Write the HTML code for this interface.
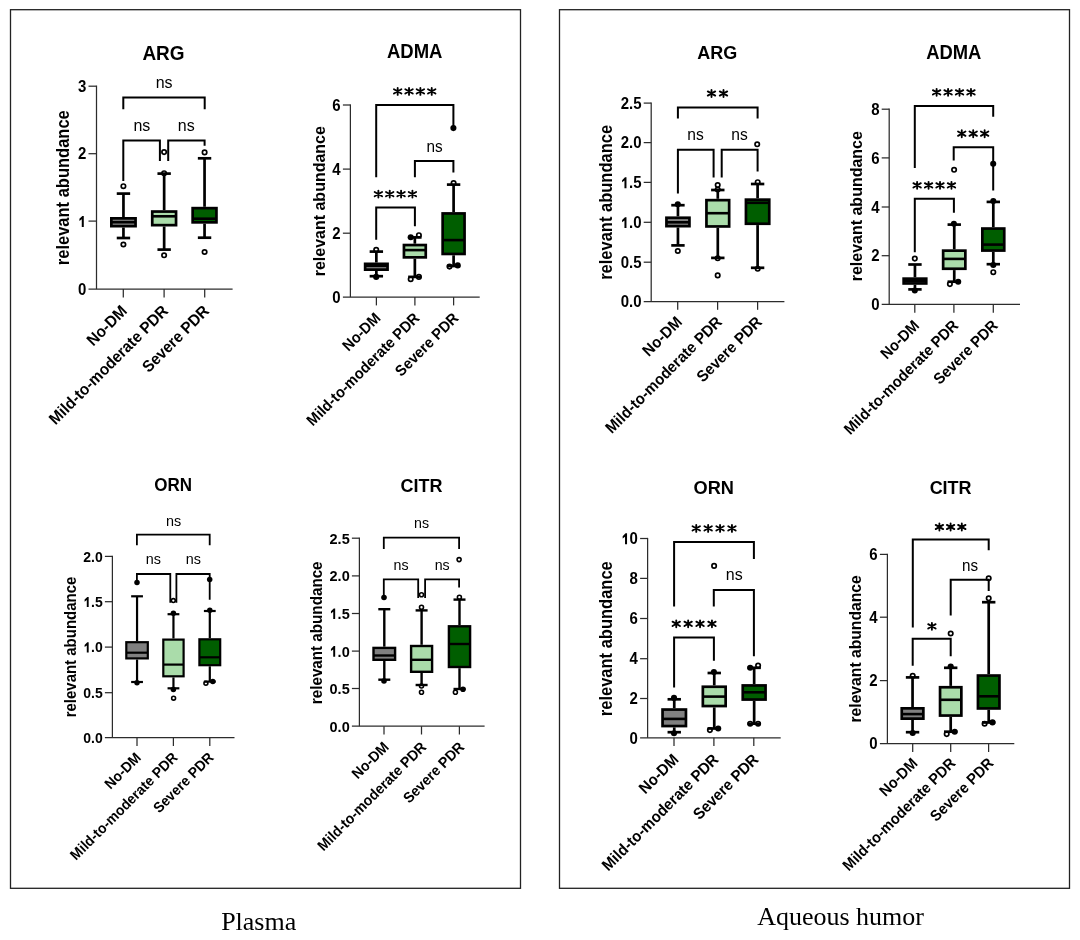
<!DOCTYPE html><html><head><meta charset="utf-8"><style>html,body{margin:0;padding:0;background:#fff;}svg{display:block;filter:blur(0.35px);}</style></head><body>
<svg width="1080" height="940" viewBox="0 0 1080 940" font-family='"Liberation Sans", sans-serif'>
<rect width="1080" height="940" fill="#fff"/>
<rect x="10.5" y="9.7" width="510" height="878.6" fill="none" stroke="#222" stroke-width="1.3"/>
<rect x="559.5" y="9.7" width="510" height="878.6" fill="none" stroke="#222" stroke-width="1.3"/>
<line x1="96.5" y1="85.58" x2="96.5" y2="289.1" stroke="#2c2c2c" stroke-width="1.25" stroke-linecap="butt"/>
<line x1="88.5" y1="221.1" x2="96.5" y2="221.1" stroke="#2c2c2c" stroke-width="1.25" stroke-linecap="butt"/>
<line x1="88.5" y1="153.7" x2="96.5" y2="153.7" stroke="#2c2c2c" stroke-width="1.25" stroke-linecap="butt"/>
<line x1="88.5" y1="86.2" x2="96.5" y2="86.2" stroke="#2c2c2c" stroke-width="1.25" stroke-linecap="butt"/>
<line x1="88.5" y1="289.1" x2="232.6" y2="289.1" stroke="#2c2c2c" stroke-width="1.25" stroke-linecap="butt"/>
<line x1="123.3" y1="289.1" x2="123.3" y2="297.4" stroke="#2c2c2c" stroke-width="1.25" stroke-linecap="butt"/>
<line x1="164.1" y1="289.1" x2="164.1" y2="297.4" stroke="#2c2c2c" stroke-width="1.25" stroke-linecap="butt"/>
<line x1="204.7" y1="289.1" x2="204.7" y2="297.4" stroke="#2c2c2c" stroke-width="1.25" stroke-linecap="butt"/>
<text transform="translate(86.3,294.88) scale(0.9434,1)" font-size="15.9" font-weight="bold" text-anchor="end">0</text>
<text transform="translate(86.3,226.88) scale(0.9434,1)" font-size="15.9" font-weight="bold" text-anchor="end"> </text>
<polygon points="83.78,226.88 83.78,215.94 82.31,215.94 79.41,218.85 79.41,221.07 81.77,219.32 81.77,226.88" fill="#000"/>
<text transform="translate(86.3,159.47) scale(0.9434,1)" font-size="15.9" font-weight="bold" text-anchor="end">2</text>
<text transform="translate(86.3,91.98) scale(0.9434,1)" font-size="15.9" font-weight="bold" text-anchor="end">3</text>
<text transform="translate(163.5,59.6) scale(0.9434,1)" font-size="20.14" font-weight="bold" text-anchor="middle">ARG</text>
<text transform="translate(68.8,187.7) rotate(-90) scale(0.9434,1)" font-size="17.49" font-weight="bold" text-anchor="middle">relevant abundance</text>
<text transform="translate(128,312) rotate(-45) scale(0.9434,1)" font-size="16.22" font-weight="bold" text-anchor="end">No-DM</text>
<text transform="translate(169,312) rotate(-45) scale(0.9434,1)" font-size="16.22" font-weight="bold" text-anchor="end">Mild-to-moderate PDR</text>
<text transform="translate(210,312) rotate(-45) scale(0.9434,1)" font-size="16.22" font-weight="bold" text-anchor="end">Severe PDR</text>
<path d="M123.3 109.3V97.5H204.7V109.3" stroke="#000" stroke-width="2" fill="none" stroke-linejoin="miter" stroke-linecap="butt"/>
<path d="M123.3 180.9V140.6H159.9V161" stroke="#000" stroke-width="2" fill="none" stroke-linejoin="miter" stroke-linecap="butt"/>
<path d="M168.2 161V140.6H204.6V145.7" stroke="#000" stroke-width="2" fill="none" stroke-linejoin="miter" stroke-linecap="butt"/>
<line x1="123.45" y1="193.6" x2="123.45" y2="217" stroke="#000" stroke-width="2.7" stroke-linecap="butt"/>
<line x1="123.45" y1="227.5" x2="123.45" y2="238" stroke="#000" stroke-width="2.7" stroke-linecap="butt"/>
<line x1="116.75" y1="193.6" x2="130.15" y2="193.6" stroke="#000" stroke-width="2.7" stroke-linecap="butt"/>
<line x1="116.75" y1="238" x2="130.15" y2="238" stroke="#000" stroke-width="2.7" stroke-linecap="butt"/>
<rect x="111.35" y="218.35" width="24.2" height="7.8" fill="#808080" stroke="#000" stroke-width="2.7"/>
<line x1="111.35" y1="222.2" x2="135.55" y2="222.2" stroke="#000" stroke-width="2.6" stroke-linecap="butt"/>
<line x1="164.15" y1="173.6" x2="164.15" y2="210.2" stroke="#000" stroke-width="2.7" stroke-linecap="butt"/>
<line x1="164.15" y1="226.5" x2="164.15" y2="249.6" stroke="#000" stroke-width="2.7" stroke-linecap="butt"/>
<line x1="157.45" y1="173.6" x2="170.85" y2="173.6" stroke="#000" stroke-width="2.7" stroke-linecap="butt"/>
<line x1="157.45" y1="249.6" x2="170.85" y2="249.6" stroke="#000" stroke-width="2.7" stroke-linecap="butt"/>
<rect x="152.25" y="211.55" width="23.8" height="13.6" fill="#aadcaa" stroke="#000" stroke-width="2.7"/>
<line x1="152.25" y1="216.3" x2="176.05" y2="216.3" stroke="#000" stroke-width="2.6" stroke-linecap="butt"/>
<line x1="204.55" y1="158.3" x2="204.55" y2="206.8" stroke="#000" stroke-width="2.7" stroke-linecap="butt"/>
<line x1="204.55" y1="223.7" x2="204.55" y2="237.7" stroke="#000" stroke-width="2.7" stroke-linecap="butt"/>
<line x1="197.85" y1="158.3" x2="211.25" y2="158.3" stroke="#000" stroke-width="2.7" stroke-linecap="butt"/>
<line x1="197.85" y1="237.7" x2="211.25" y2="237.7" stroke="#000" stroke-width="2.7" stroke-linecap="butt"/>
<rect x="192.65" y="208.15" width="23.8" height="14.2" fill="#005e00" stroke="#000" stroke-width="2.7"/>
<line x1="192.65" y1="218.7" x2="216.45" y2="218.7" stroke="#000" stroke-width="2.6" stroke-linecap="butt"/>
<circle cx="123.4" cy="186.2" r="2.2" fill="none" stroke="#000" stroke-width="1.7"/>
<circle cx="123.4" cy="244.5" r="2.2" fill="none" stroke="#000" stroke-width="1.7"/>
<circle cx="164.1" cy="152.1" r="2.2" fill="none" stroke="#000" stroke-width="1.7"/>
<circle cx="164.1" cy="255.3" r="2.2" fill="none" stroke="#000" stroke-width="1.7"/>
<circle cx="164.1" cy="173.2" r="2.2" fill="none" stroke="#000" stroke-width="1.7"/>
<circle cx="204.6" cy="152.4" r="2.2" fill="none" stroke="#000" stroke-width="1.7"/>
<circle cx="204.6" cy="252" r="2.2" fill="none" stroke="#000" stroke-width="1.7"/>
<text transform="translate(164.1,87.8) scale(0.9434,1)" font-size="16.96" font-weight="normal" text-anchor="middle">ns</text>
<text transform="translate(141.9,130.8) scale(0.9434,1)" font-size="16.96" font-weight="normal" text-anchor="middle">ns</text>
<text transform="translate(186.2,130.8) scale(0.9434,1)" font-size="16.96" font-weight="normal" text-anchor="middle">ns</text>
<line x1="350.4" y1="104.38" x2="350.4" y2="297.1" stroke="#2c2c2c" stroke-width="1.25" stroke-linecap="butt"/>
<line x1="342.9" y1="233.2" x2="350.4" y2="233.2" stroke="#2c2c2c" stroke-width="1.25" stroke-linecap="butt"/>
<line x1="342.9" y1="169.1" x2="350.4" y2="169.1" stroke="#2c2c2c" stroke-width="1.25" stroke-linecap="butt"/>
<line x1="342.9" y1="105" x2="350.4" y2="105" stroke="#2c2c2c" stroke-width="1.25" stroke-linecap="butt"/>
<line x1="342.9" y1="297.1" x2="479.7" y2="297.1" stroke="#2c2c2c" stroke-width="1.25" stroke-linecap="butt"/>
<line x1="376.4" y1="297.1" x2="376.4" y2="305.4" stroke="#2c2c2c" stroke-width="1.25" stroke-linecap="butt"/>
<line x1="414.9" y1="297.1" x2="414.9" y2="305.4" stroke="#2c2c2c" stroke-width="1.25" stroke-linecap="butt"/>
<line x1="453.6" y1="297.1" x2="453.6" y2="305.4" stroke="#2c2c2c" stroke-width="1.25" stroke-linecap="butt"/>
<text transform="translate(340.7,302.88) scale(0.9434,1)" font-size="15.9" font-weight="bold" text-anchor="end">0</text>
<text transform="translate(340.7,238.97) scale(0.9434,1)" font-size="15.9" font-weight="bold" text-anchor="end">2</text>
<text transform="translate(340.7,174.88) scale(0.9434,1)" font-size="15.9" font-weight="bold" text-anchor="end">4</text>
<text transform="translate(340.7,110.78) scale(0.9434,1)" font-size="15.9" font-weight="bold" text-anchor="end">6</text>
<text transform="translate(414.7,58) scale(0.9434,1)" font-size="19.61" font-weight="bold" text-anchor="middle">ADMA</text>
<text transform="translate(324.7,201.2) rotate(-90) scale(0.9434,1)" font-size="16.96" font-weight="bold" text-anchor="middle">relevant abundance</text>
<text transform="translate(381.5,319) rotate(-45) scale(0.9434,1)" font-size="15.37" font-weight="bold" text-anchor="end">No-DM</text>
<text transform="translate(420.5,319) rotate(-45) scale(0.9434,1)" font-size="15.37" font-weight="bold" text-anchor="end">Mild-to-moderate PDR</text>
<text transform="translate(459.5,319) rotate(-45) scale(0.9434,1)" font-size="15.37" font-weight="bold" text-anchor="end">Severe PDR</text>
<path d="M376.2 177.2V105H453.4V126.3" stroke="#000" stroke-width="2" fill="none" stroke-linejoin="miter" stroke-linecap="butt"/>
<path d="M414.9 177.2V161.1H453.4V172.6" stroke="#000" stroke-width="2" fill="none" stroke-linejoin="miter" stroke-linecap="butt"/>
<path d="M376.2 239.7V207.4H414.9V226.3" stroke="#000" stroke-width="2" fill="none" stroke-linejoin="miter" stroke-linecap="butt"/>
<line x1="376.35" y1="251.6" x2="376.35" y2="262.5" stroke="#000" stroke-width="2.7" stroke-linecap="butt"/>
<line x1="376.35" y1="271" x2="376.35" y2="276.2" stroke="#000" stroke-width="2.7" stroke-linecap="butt"/>
<line x1="369.65" y1="251.6" x2="383.05" y2="251.6" stroke="#000" stroke-width="2.7" stroke-linecap="butt"/>
<line x1="369.65" y1="276.2" x2="383.05" y2="276.2" stroke="#000" stroke-width="2.7" stroke-linecap="butt"/>
<rect x="365.15" y="263.85" width="22.4" height="5.8" fill="#808080" stroke="#000" stroke-width="2.7"/>
<line x1="365.15" y1="265.8" x2="387.55" y2="265.8" stroke="#000" stroke-width="2.6" stroke-linecap="butt"/>
<line x1="414.85" y1="237.4" x2="414.85" y2="243.7" stroke="#000" stroke-width="2.7" stroke-linecap="butt"/>
<line x1="414.85" y1="258.7" x2="414.85" y2="276.9" stroke="#000" stroke-width="2.7" stroke-linecap="butt"/>
<line x1="408.15" y1="237.4" x2="421.55" y2="237.4" stroke="#000" stroke-width="2.7" stroke-linecap="butt"/>
<line x1="408.15" y1="276.9" x2="421.55" y2="276.9" stroke="#000" stroke-width="2.7" stroke-linecap="butt"/>
<rect x="403.95" y="245.05" width="21.8" height="12.3" fill="#aadcaa" stroke="#000" stroke-width="2.7"/>
<line x1="403.95" y1="250.1" x2="425.75" y2="250.1" stroke="#000" stroke-width="2.6" stroke-linecap="butt"/>
<line x1="453.6" y1="184.6" x2="453.6" y2="212.1" stroke="#000" stroke-width="2.7" stroke-linecap="butt"/>
<line x1="453.6" y1="255.3" x2="453.6" y2="266" stroke="#000" stroke-width="2.7" stroke-linecap="butt"/>
<line x1="446.9" y1="184.6" x2="460.3" y2="184.6" stroke="#000" stroke-width="2.7" stroke-linecap="butt"/>
<line x1="446.9" y1="266" x2="460.3" y2="266" stroke="#000" stroke-width="2.7" stroke-linecap="butt"/>
<rect x="442.65" y="213.45" width="21.9" height="40.5" fill="#005e00" stroke="#000" stroke-width="2.7"/>
<line x1="442.65" y1="240.1" x2="464.55" y2="240.1" stroke="#000" stroke-width="2.6" stroke-linecap="butt"/>
<circle cx="376.2" cy="249.8" r="2.2" fill="none" stroke="#000" stroke-width="1.7"/>
<circle cx="376.2" cy="276.9" r="3.05" fill="#000"/>
<circle cx="410.7" cy="237.2" r="3.05" fill="#000"/>
<circle cx="418.9" cy="235.2" r="2.2" fill="none" stroke="#000" stroke-width="1.7"/>
<circle cx="410.7" cy="279.2" r="2.2" fill="none" stroke="#000" stroke-width="1.7"/>
<circle cx="418.9" cy="276.9" r="2.2" fill="none" stroke="#000" stroke-width="1.7"/>
<circle cx="453.6" cy="183.1" r="2.2" fill="none" stroke="#000" stroke-width="1.7"/>
<circle cx="449.5" cy="266.6" r="2.2" fill="none" stroke="#000" stroke-width="1.7"/>
<circle cx="457.7" cy="265.4" r="3.05" fill="#000"/>
<circle cx="453.4" cy="128.1" r="3.05" fill="#000"/>
<path d="M397.68 87.9V94.9M393.95 89.25L401.4 93.55M393.95 93.55L401.4 89.25M409.03 87.9V94.9M405.3 89.25L412.75 93.55M405.3 93.55L412.75 89.25M420.38 87.9V94.9M416.65 89.25L424.1 93.55M416.65 93.55L424.1 89.25M431.73 87.9V94.9M428 89.25L435.45 93.55M428 93.55L435.45 89.25" stroke="#000" stroke-width="1.85" fill="none" stroke-linejoin="miter" stroke-linecap="round"/>
<text transform="translate(434.5,151.9) scale(0.9434,1)" font-size="16.22" font-weight="normal" text-anchor="middle">ns</text>
<path d="M378.38 190.6V197.6M374.65 191.95L382.1 196.25M374.65 196.25L382.1 191.95M389.73 190.6V197.6M386 191.95L393.45 196.25M386 196.25L393.45 191.95M401.07 190.6V197.6M397.35 191.95L404.8 196.25M397.35 196.25L404.8 191.95M412.43 190.6V197.6M408.7 191.95L416.15 196.25M408.7 196.25L416.15 191.95" stroke="#000" stroke-width="1.85" fill="none" stroke-linejoin="miter" stroke-linecap="round"/>
<line x1="112.4" y1="555.77" x2="112.4" y2="737.7" stroke="#2c2c2c" stroke-width="1.25" stroke-linecap="butt"/>
<line x1="104.9" y1="692.7" x2="112.4" y2="692.7" stroke="#2c2c2c" stroke-width="1.25" stroke-linecap="butt"/>
<line x1="104.9" y1="647.1" x2="112.4" y2="647.1" stroke="#2c2c2c" stroke-width="1.25" stroke-linecap="butt"/>
<line x1="104.9" y1="601.7" x2="112.4" y2="601.7" stroke="#2c2c2c" stroke-width="1.25" stroke-linecap="butt"/>
<line x1="104.9" y1="556.4" x2="112.4" y2="556.4" stroke="#2c2c2c" stroke-width="1.25" stroke-linecap="butt"/>
<line x1="104.9" y1="737.7" x2="234.5" y2="737.7" stroke="#2c2c2c" stroke-width="1.25" stroke-linecap="butt"/>
<line x1="137" y1="737.7" x2="137" y2="746" stroke="#2c2c2c" stroke-width="1.25" stroke-linecap="butt"/>
<line x1="173.4" y1="737.7" x2="173.4" y2="746" stroke="#2c2c2c" stroke-width="1.25" stroke-linecap="butt"/>
<line x1="209.8" y1="737.7" x2="209.8" y2="746" stroke="#2c2c2c" stroke-width="1.25" stroke-linecap="butt"/>
<text transform="translate(102.7,743.09) scale(0.9434,1)" font-size="14.84" font-weight="bold" text-anchor="end">0.0</text>
<text transform="translate(102.7,698.09) scale(0.9434,1)" font-size="14.84" font-weight="bold" text-anchor="end">0.5</text>
<text transform="translate(102.7,652.49) scale(0.9434,1)" font-size="14.84" font-weight="bold" text-anchor="end"> .0</text>
<polygon points="88.67,652.49 88.67,642.28 87.30,642.28 84.60,645.00 84.60,647.07 86.79,645.44 86.79,652.49" fill="#000"/>
<text transform="translate(102.7,607.09) scale(0.9434,1)" font-size="14.84" font-weight="bold" text-anchor="end"> .5</text>
<polygon points="88.67,607.09 88.67,596.88 87.30,596.88 84.60,599.60 84.60,601.67 86.79,600.04 86.79,607.09" fill="#000"/>
<text transform="translate(102.7,561.79) scale(0.9434,1)" font-size="14.84" font-weight="bold" text-anchor="end">2.0</text>
<text transform="translate(173.2,490.7) scale(0.9434,1)" font-size="18.02" font-weight="bold" text-anchor="middle">ORN</text>
<text transform="translate(76.3,647) rotate(-90) scale(0.9434,1)" font-size="15.9" font-weight="bold" text-anchor="middle">relevant abundance</text>
<text transform="translate(142,758.5) rotate(-45) scale(0.9434,1)" font-size="14.63" font-weight="bold" text-anchor="end">No-DM</text>
<text transform="translate(178.5,758.5) rotate(-45) scale(0.9434,1)" font-size="14.63" font-weight="bold" text-anchor="end">Mild-to-moderate PDR</text>
<text transform="translate(214.5,758.5) rotate(-45) scale(0.9434,1)" font-size="14.63" font-weight="bold" text-anchor="end">Severe PDR</text>
<path d="M136.9 545.2V534.7H209.7V545.2" stroke="#000" stroke-width="1.8" fill="none" stroke-linejoin="miter" stroke-linecap="butt"/>
<path d="M136.9 582V574H170.3V602.7" stroke="#000" stroke-width="1.8" fill="none" stroke-linejoin="miter" stroke-linecap="butt"/>
<path d="M176.4 602.7V574H209.7V599.8" stroke="#000" stroke-width="1.8" fill="none" stroke-linejoin="miter" stroke-linecap="butt"/>
<line x1="137.05" y1="596.3" x2="137.05" y2="641.1" stroke="#000" stroke-width="2.2" stroke-linecap="butt"/>
<line x1="137.05" y1="659.5" x2="137.05" y2="682" stroke="#000" stroke-width="2.2" stroke-linecap="butt"/>
<line x1="131.15" y1="596.3" x2="142.95" y2="596.3" stroke="#000" stroke-width="2.2" stroke-linecap="butt"/>
<line x1="131.15" y1="682" x2="142.95" y2="682" stroke="#000" stroke-width="2.2" stroke-linecap="butt"/>
<rect x="126.3" y="642.2" width="21.5" height="16.2" fill="#808080" stroke="#000" stroke-width="2.2"/>
<line x1="126.3" y1="652.7" x2="147.8" y2="652.7" stroke="#000" stroke-width="2.2" stroke-linecap="butt"/>
<line x1="173.45" y1="614.2" x2="173.45" y2="638.5" stroke="#000" stroke-width="2.2" stroke-linecap="butt"/>
<line x1="173.45" y1="677.4" x2="173.45" y2="688.3" stroke="#000" stroke-width="2.2" stroke-linecap="butt"/>
<line x1="167.55" y1="614.2" x2="179.35" y2="614.2" stroke="#000" stroke-width="2.2" stroke-linecap="butt"/>
<line x1="167.55" y1="688.3" x2="179.35" y2="688.3" stroke="#000" stroke-width="2.2" stroke-linecap="butt"/>
<rect x="163.3" y="639.6" width="20.3" height="36.7" fill="#aadcaa" stroke="#000" stroke-width="2.2"/>
<line x1="163.3" y1="664.6" x2="183.6" y2="664.6" stroke="#000" stroke-width="2.2" stroke-linecap="butt"/>
<line x1="209.8" y1="611" x2="209.8" y2="638.2" stroke="#000" stroke-width="2.2" stroke-linecap="butt"/>
<line x1="209.8" y1="666.3" x2="209.8" y2="681.6" stroke="#000" stroke-width="2.2" stroke-linecap="butt"/>
<line x1="203.9" y1="611" x2="215.7" y2="611" stroke="#000" stroke-width="2.2" stroke-linecap="butt"/>
<line x1="203.9" y1="681.6" x2="215.7" y2="681.6" stroke="#000" stroke-width="2.2" stroke-linecap="butt"/>
<rect x="199.4" y="639.3" width="20.8" height="25.9" fill="#005e00" stroke="#000" stroke-width="2.2"/>
<line x1="199.4" y1="657.3" x2="220.2" y2="657.3" stroke="#000" stroke-width="2.2" stroke-linecap="butt"/>
<circle cx="137" cy="582.5" r="2.75" fill="#000"/>
<circle cx="137" cy="682.8" r="2.75" fill="#000"/>
<circle cx="173.4" cy="613.3" r="2.75" fill="#000"/>
<circle cx="173.4" cy="689.6" r="2.75" fill="#000"/>
<circle cx="173.6" cy="698.2" r="1.95" fill="none" stroke="#000" stroke-width="1.6"/>
<circle cx="173.3" cy="600.6" r="1.95" fill="none" stroke="#000" stroke-width="1.6"/>
<circle cx="209.8" cy="610.3" r="2.75" fill="#000"/>
<circle cx="205.9" cy="683.3" r="1.95" fill="none" stroke="#000" stroke-width="1.6"/>
<circle cx="212.8" cy="681.6" r="2.75" fill="#000"/>
<circle cx="209.7" cy="579.4" r="2.75" fill="#000"/>
<text transform="translate(173.5,526.1) scale(0.9434,1)" font-size="15.26" font-weight="normal" text-anchor="middle">ns</text>
<text transform="translate(153.4,564.4) scale(0.9434,1)" font-size="15.26" font-weight="normal" text-anchor="middle">ns</text>
<text transform="translate(193.4,564.4) scale(0.9434,1)" font-size="15.26" font-weight="normal" text-anchor="middle">ns</text>
<line x1="359.4" y1="537.58" x2="359.4" y2="726.2" stroke="#2c2c2c" stroke-width="1.25" stroke-linecap="butt"/>
<line x1="351.9" y1="688.5" x2="359.4" y2="688.5" stroke="#2c2c2c" stroke-width="1.25" stroke-linecap="butt"/>
<line x1="351.9" y1="651.1" x2="359.4" y2="651.1" stroke="#2c2c2c" stroke-width="1.25" stroke-linecap="butt"/>
<line x1="351.9" y1="613.5" x2="359.4" y2="613.5" stroke="#2c2c2c" stroke-width="1.25" stroke-linecap="butt"/>
<line x1="351.9" y1="575.9" x2="359.4" y2="575.9" stroke="#2c2c2c" stroke-width="1.25" stroke-linecap="butt"/>
<line x1="351.9" y1="538.2" x2="359.4" y2="538.2" stroke="#2c2c2c" stroke-width="1.25" stroke-linecap="butt"/>
<line x1="351.9" y1="726.2" x2="484.6" y2="726.2" stroke="#2c2c2c" stroke-width="1.25" stroke-linecap="butt"/>
<line x1="384" y1="726.2" x2="384" y2="734.5" stroke="#2c2c2c" stroke-width="1.25" stroke-linecap="butt"/>
<line x1="421.5" y1="726.2" x2="421.5" y2="734.5" stroke="#2c2c2c" stroke-width="1.25" stroke-linecap="butt"/>
<line x1="459.4" y1="726.2" x2="459.4" y2="734.5" stroke="#2c2c2c" stroke-width="1.25" stroke-linecap="butt"/>
<text transform="translate(349.7,731.78) scale(0.9434,1)" font-size="15.37" font-weight="bold" text-anchor="end">0.0</text>
<text transform="translate(349.7,694.08) scale(0.9434,1)" font-size="15.37" font-weight="bold" text-anchor="end">0.5</text>
<text transform="translate(349.7,656.68) scale(0.9434,1)" font-size="15.37" font-weight="bold" text-anchor="end"> .0</text>
<polygon points="335.17,656.68 335.17,646.11 333.75,646.11 330.95,648.92 330.95,651.07 333.23,649.38 333.23,656.68" fill="#000"/>
<text transform="translate(349.7,619.08) scale(0.9434,1)" font-size="15.37" font-weight="bold" text-anchor="end"> .5</text>
<polygon points="335.17,619.08 335.17,608.51 333.75,608.51 330.95,611.32 330.95,613.47 333.23,611.78 333.23,619.08" fill="#000"/>
<text transform="translate(349.7,581.48) scale(0.9434,1)" font-size="15.37" font-weight="bold" text-anchor="end">2.0</text>
<text transform="translate(349.7,543.78) scale(0.9434,1)" font-size="15.37" font-weight="bold" text-anchor="end">2.5</text>
<text transform="translate(421.5,491.6) scale(0.9434,1)" font-size="19.08" font-weight="bold" text-anchor="middle">CITR</text>
<text transform="translate(322.2,632.8) rotate(-90) scale(0.9434,1)" font-size="16.11" font-weight="bold" text-anchor="middle">relevant abundance</text>
<text transform="translate(389.7,748) rotate(-45) scale(0.9434,1)" font-size="14.84" font-weight="bold" text-anchor="end">No-DM</text>
<text transform="translate(427.2,748) rotate(-45) scale(0.9434,1)" font-size="14.84" font-weight="bold" text-anchor="end">Mild-to-moderate PDR</text>
<text transform="translate(465.2,748) rotate(-45) scale(0.9434,1)" font-size="14.84" font-weight="bold" text-anchor="end">Severe PDR</text>
<path d="M383.8 549.1V537.6H459.1V549.1" stroke="#000" stroke-width="1.8" fill="none" stroke-linejoin="miter" stroke-linecap="butt"/>
<path d="M383.8 597V579.3H418.2V598" stroke="#000" stroke-width="1.8" fill="none" stroke-linejoin="miter" stroke-linecap="butt"/>
<path d="M425.1 598V579.3H459.1V587.4" stroke="#000" stroke-width="1.8" fill="none" stroke-linejoin="miter" stroke-linecap="butt"/>
<line x1="384.3" y1="609.2" x2="384.3" y2="646.7" stroke="#000" stroke-width="2.4" stroke-linecap="butt"/>
<line x1="384.3" y1="661" x2="384.3" y2="679.7" stroke="#000" stroke-width="2.4" stroke-linecap="butt"/>
<line x1="378.3" y1="609.2" x2="390.3" y2="609.2" stroke="#000" stroke-width="2.4" stroke-linecap="butt"/>
<line x1="378.3" y1="679.7" x2="390.3" y2="679.7" stroke="#000" stroke-width="2.4" stroke-linecap="butt"/>
<rect x="373.5" y="647.9" width="21.6" height="11.9" fill="#808080" stroke="#000" stroke-width="2.4"/>
<line x1="373.5" y1="655.5" x2="395.1" y2="655.5" stroke="#000" stroke-width="2.4" stroke-linecap="butt"/>
<line x1="421.6" y1="610.4" x2="421.6" y2="644.8" stroke="#000" stroke-width="2.4" stroke-linecap="butt"/>
<line x1="421.6" y1="673" x2="421.6" y2="685" stroke="#000" stroke-width="2.4" stroke-linecap="butt"/>
<line x1="415.6" y1="610.4" x2="427.6" y2="610.4" stroke="#000" stroke-width="2.4" stroke-linecap="butt"/>
<line x1="415.6" y1="685" x2="427.6" y2="685" stroke="#000" stroke-width="2.4" stroke-linecap="butt"/>
<rect x="411.1" y="646" width="21" height="25.8" fill="#aadcaa" stroke="#000" stroke-width="2.4"/>
<line x1="411.1" y1="659.8" x2="432.1" y2="659.8" stroke="#000" stroke-width="2.4" stroke-linecap="butt"/>
<line x1="459.5" y1="599.6" x2="459.5" y2="625.1" stroke="#000" stroke-width="2.4" stroke-linecap="butt"/>
<line x1="459.5" y1="668.2" x2="459.5" y2="689" stroke="#000" stroke-width="2.4" stroke-linecap="butt"/>
<line x1="453.5" y1="599.6" x2="465.5" y2="599.6" stroke="#000" stroke-width="2.4" stroke-linecap="butt"/>
<line x1="453.5" y1="689" x2="465.5" y2="689" stroke="#000" stroke-width="2.4" stroke-linecap="butt"/>
<rect x="448.9" y="626.3" width="21.2" height="40.7" fill="#005e00" stroke="#000" stroke-width="2.4"/>
<line x1="448.9" y1="644" x2="470.1" y2="644" stroke="#000" stroke-width="2.4" stroke-linecap="butt"/>
<circle cx="384" cy="597.5" r="2.8" fill="#000"/>
<circle cx="384" cy="681" r="2.8" fill="#000"/>
<circle cx="421.5" cy="607.2" r="2" fill="none" stroke="#000" stroke-width="1.6"/>
<circle cx="421.5" cy="594.8" r="2" fill="none" stroke="#000" stroke-width="1.6"/>
<circle cx="421.5" cy="692.2" r="2" fill="none" stroke="#000" stroke-width="1.6"/>
<circle cx="421.5" cy="686" r="2" fill="none" stroke="#000" stroke-width="1.6"/>
<circle cx="459.4" cy="597.2" r="2" fill="none" stroke="#000" stroke-width="1.6"/>
<circle cx="455.4" cy="692.2" r="2" fill="none" stroke="#000" stroke-width="1.6"/>
<circle cx="463" cy="689.3" r="2.8" fill="#000"/>
<circle cx="459.1" cy="559.6" r="2" fill="none" stroke="#000" stroke-width="1.6"/>
<text transform="translate(421.6,528) scale(0.9434,1)" font-size="15.05" font-weight="normal" text-anchor="middle">ns</text>
<text transform="translate(401,569.6) scale(0.9434,1)" font-size="15.05" font-weight="normal" text-anchor="middle">ns</text>
<text transform="translate(442.2,569.6) scale(0.9434,1)" font-size="15.05" font-weight="normal" text-anchor="middle">ns</text>
<line x1="651.2" y1="102.47" x2="651.2" y2="301.5" stroke="#2c2c2c" stroke-width="1.25" stroke-linecap="butt"/>
<line x1="643.7" y1="262.2" x2="651.2" y2="262.2" stroke="#2c2c2c" stroke-width="1.25" stroke-linecap="butt"/>
<line x1="643.7" y1="222.3" x2="651.2" y2="222.3" stroke="#2c2c2c" stroke-width="1.25" stroke-linecap="butt"/>
<line x1="643.7" y1="182.4" x2="651.2" y2="182.4" stroke="#2c2c2c" stroke-width="1.25" stroke-linecap="butt"/>
<line x1="643.7" y1="142.6" x2="651.2" y2="142.6" stroke="#2c2c2c" stroke-width="1.25" stroke-linecap="butt"/>
<line x1="643.7" y1="103.1" x2="651.2" y2="103.1" stroke="#2c2c2c" stroke-width="1.25" stroke-linecap="butt"/>
<line x1="643.7" y1="301.5" x2="784.4" y2="301.5" stroke="#2c2c2c" stroke-width="1.25" stroke-linecap="butt"/>
<line x1="677.7" y1="301.5" x2="677.7" y2="309.8" stroke="#2c2c2c" stroke-width="1.25" stroke-linecap="butt"/>
<line x1="717.6" y1="301.5" x2="717.6" y2="309.8" stroke="#2c2c2c" stroke-width="1.25" stroke-linecap="butt"/>
<line x1="757.6" y1="301.5" x2="757.6" y2="309.8" stroke="#2c2c2c" stroke-width="1.25" stroke-linecap="butt"/>
<text transform="translate(641.5,307.27) scale(0.9434,1)" font-size="15.9" font-weight="bold" text-anchor="end">0.0</text>
<text transform="translate(641.5,267.97) scale(0.9434,1)" font-size="15.9" font-weight="bold" text-anchor="end">0.5</text>
<text transform="translate(641.5,228.08) scale(0.9434,1)" font-size="15.9" font-weight="bold" text-anchor="end"> .0</text>
<polygon points="626.47,228.08 626.47,217.14 625.00,217.14 622.10,220.05 622.10,222.27 624.46,220.52 624.46,228.08" fill="#000"/>
<text transform="translate(641.5,188.18) scale(0.9434,1)" font-size="15.9" font-weight="bold" text-anchor="end"> .5</text>
<polygon points="626.47,188.18 626.47,177.24 625.00,177.24 622.10,180.15 622.10,182.37 624.46,180.62 624.46,188.18" fill="#000"/>
<text transform="translate(641.5,148.38) scale(0.9434,1)" font-size="15.9" font-weight="bold" text-anchor="end">2.0</text>
<text transform="translate(641.5,108.88) scale(0.9434,1)" font-size="15.9" font-weight="bold" text-anchor="end">2.5</text>
<text transform="translate(717.3,58.7) scale(0.9434,1)" font-size="19.08" font-weight="bold" text-anchor="middle">ARG</text>
<text transform="translate(611.8,202.4) rotate(-90) scale(0.9434,1)" font-size="17.49" font-weight="bold" text-anchor="middle">relevant abundance</text>
<text transform="translate(683,323) rotate(-45) scale(0.9434,1)" font-size="15.9" font-weight="bold" text-anchor="end">No-DM</text>
<text transform="translate(723,323) rotate(-45) scale(0.9434,1)" font-size="15.9" font-weight="bold" text-anchor="end">Mild-to-moderate PDR</text>
<text transform="translate(763,323) rotate(-45) scale(0.9434,1)" font-size="15.9" font-weight="bold" text-anchor="end">Severe PDR</text>
<path d="M677.9 118.5V107.4H757.6V118.5" stroke="#000" stroke-width="2" fill="none" stroke-linejoin="miter" stroke-linecap="butt"/>
<path d="M677.9 193.5V149.8H713.6V177.6" stroke="#000" stroke-width="2" fill="none" stroke-linejoin="miter" stroke-linecap="butt"/>
<path d="M721.7 177.6V149.8H757.6V171.5" stroke="#000" stroke-width="2" fill="none" stroke-linejoin="miter" stroke-linecap="butt"/>
<line x1="677.95" y1="205.2" x2="677.95" y2="216.4" stroke="#000" stroke-width="2.7" stroke-linecap="butt"/>
<line x1="677.95" y1="227.5" x2="677.95" y2="245.4" stroke="#000" stroke-width="2.7" stroke-linecap="butt"/>
<line x1="671.25" y1="205.2" x2="684.65" y2="205.2" stroke="#000" stroke-width="2.7" stroke-linecap="butt"/>
<line x1="671.25" y1="245.4" x2="684.65" y2="245.4" stroke="#000" stroke-width="2.7" stroke-linecap="butt"/>
<rect x="666.45" y="217.75" width="23" height="8.4" fill="#808080" stroke="#000" stroke-width="2.7"/>
<line x1="666.45" y1="222.3" x2="689.45" y2="222.3" stroke="#000" stroke-width="2.6" stroke-linecap="butt"/>
<line x1="717.8" y1="190" x2="717.8" y2="198.8" stroke="#000" stroke-width="2.7" stroke-linecap="butt"/>
<line x1="717.8" y1="227.8" x2="717.8" y2="257.9" stroke="#000" stroke-width="2.7" stroke-linecap="butt"/>
<line x1="711.1" y1="190" x2="724.5" y2="190" stroke="#000" stroke-width="2.7" stroke-linecap="butt"/>
<line x1="711.1" y1="257.9" x2="724.5" y2="257.9" stroke="#000" stroke-width="2.7" stroke-linecap="butt"/>
<rect x="706.45" y="200.15" width="22.7" height="26.3" fill="#aadcaa" stroke="#000" stroke-width="2.7"/>
<line x1="706.45" y1="213.2" x2="729.15" y2="213.2" stroke="#000" stroke-width="2.6" stroke-linecap="butt"/>
<line x1="757.6" y1="184" x2="757.6" y2="198.3" stroke="#000" stroke-width="2.7" stroke-linecap="butt"/>
<line x1="757.6" y1="225.1" x2="757.6" y2="267.8" stroke="#000" stroke-width="2.7" stroke-linecap="butt"/>
<line x1="750.9" y1="184" x2="764.3" y2="184" stroke="#000" stroke-width="2.7" stroke-linecap="butt"/>
<line x1="750.9" y1="267.8" x2="764.3" y2="267.8" stroke="#000" stroke-width="2.7" stroke-linecap="butt"/>
<rect x="745.95" y="199.65" width="23.3" height="24.1" fill="#005e00" stroke="#000" stroke-width="2.7"/>
<line x1="745.95" y1="202.8" x2="769.25" y2="202.8" stroke="#000" stroke-width="2.6" stroke-linecap="butt"/>
<circle cx="677.8" cy="204.2" r="3.05" fill="#000"/>
<circle cx="677.8" cy="251" r="2.2" fill="none" stroke="#000" stroke-width="1.7"/>
<circle cx="717.7" cy="185.1" r="2.2" fill="none" stroke="#000" stroke-width="1.7"/>
<circle cx="717.7" cy="189.5" r="2.2" fill="none" stroke="#000" stroke-width="1.7"/>
<circle cx="717.7" cy="258.3" r="2.2" fill="none" stroke="#000" stroke-width="1.7"/>
<circle cx="717.7" cy="275.4" r="2.2" fill="none" stroke="#000" stroke-width="1.7"/>
<circle cx="757.7" cy="182.2" r="2.2" fill="none" stroke="#000" stroke-width="1.7"/>
<circle cx="757.7" cy="268.8" r="2.2" fill="none" stroke="#000" stroke-width="1.7"/>
<circle cx="757.2" cy="144.3" r="2.2" fill="none" stroke="#000" stroke-width="1.7"/>
<path d="M711.5 90V97M707.78 91.35L715.22 95.65M707.78 95.65L715.22 91.35M723.5 90V97M719.78 91.35L727.22 95.65M719.78 95.65L727.22 91.35" stroke="#000" stroke-width="1.85" fill="none" stroke-linejoin="miter" stroke-linecap="round"/>
<text transform="translate(695.5,139.6) scale(0.9434,1)" font-size="16.54" font-weight="normal" text-anchor="middle">ns</text>
<text transform="translate(739.5,139.6) scale(0.9434,1)" font-size="16.54" font-weight="normal" text-anchor="middle">ns</text>
<line x1="889.2" y1="108.58" x2="889.2" y2="304.4" stroke="#2c2c2c" stroke-width="1.25" stroke-linecap="butt"/>
<line x1="881.7" y1="255.7" x2="889.2" y2="255.7" stroke="#2c2c2c" stroke-width="1.25" stroke-linecap="butt"/>
<line x1="881.7" y1="207" x2="889.2" y2="207" stroke="#2c2c2c" stroke-width="1.25" stroke-linecap="butt"/>
<line x1="881.7" y1="157.9" x2="889.2" y2="157.9" stroke="#2c2c2c" stroke-width="1.25" stroke-linecap="butt"/>
<line x1="881.7" y1="109.2" x2="889.2" y2="109.2" stroke="#2c2c2c" stroke-width="1.25" stroke-linecap="butt"/>
<line x1="881.7" y1="304.4" x2="1020" y2="304.4" stroke="#2c2c2c" stroke-width="1.25" stroke-linecap="butt"/>
<line x1="914.8" y1="304.4" x2="914.8" y2="312.7" stroke="#2c2c2c" stroke-width="1.25" stroke-linecap="butt"/>
<line x1="953.9" y1="304.4" x2="953.9" y2="312.7" stroke="#2c2c2c" stroke-width="1.25" stroke-linecap="butt"/>
<line x1="993.3" y1="304.4" x2="993.3" y2="312.7" stroke="#2c2c2c" stroke-width="1.25" stroke-linecap="butt"/>
<text transform="translate(879.5,310.17) scale(0.9434,1)" font-size="15.9" font-weight="bold" text-anchor="end">0</text>
<text transform="translate(879.5,261.47) scale(0.9434,1)" font-size="15.9" font-weight="bold" text-anchor="end">2</text>
<text transform="translate(879.5,212.78) scale(0.9434,1)" font-size="15.9" font-weight="bold" text-anchor="end">4</text>
<text transform="translate(879.5,163.68) scale(0.9434,1)" font-size="15.9" font-weight="bold" text-anchor="end">6</text>
<text transform="translate(879.5,114.98) scale(0.9434,1)" font-size="15.9" font-weight="bold" text-anchor="end">8</text>
<text transform="translate(953.7,58.5) scale(0.9434,1)" font-size="19.5" font-weight="bold" text-anchor="middle">ADMA</text>
<text transform="translate(861.5,206.2) rotate(-90) scale(0.9434,1)" font-size="16.96" font-weight="bold" text-anchor="middle">relevant abundance</text>
<text transform="translate(920.2,326.5) rotate(-45) scale(0.9434,1)" font-size="15.58" font-weight="bold" text-anchor="end">No-DM</text>
<text transform="translate(959.2,326.5) rotate(-45) scale(0.9434,1)" font-size="15.58" font-weight="bold" text-anchor="end">Mild-to-moderate PDR</text>
<text transform="translate(998.7,326.5) rotate(-45) scale(0.9434,1)" font-size="15.58" font-weight="bold" text-anchor="end">Severe PDR</text>
<path d="M914.8 168V105.9H993.2V116.7" stroke="#000" stroke-width="2" fill="none" stroke-linejoin="miter" stroke-linecap="butt"/>
<path d="M953.7 160.6V147.2H993.2V190.4" stroke="#000" stroke-width="2" fill="none" stroke-linejoin="miter" stroke-linecap="butt"/>
<path d="M914.8 252.2V198.7H953.9V212.8" stroke="#000" stroke-width="2" fill="none" stroke-linejoin="miter" stroke-linecap="butt"/>
<line x1="914.95" y1="264.5" x2="914.95" y2="277.3" stroke="#000" stroke-width="2.7" stroke-linecap="butt"/>
<line x1="914.95" y1="284.8" x2="914.95" y2="289.4" stroke="#000" stroke-width="2.7" stroke-linecap="butt"/>
<line x1="908.25" y1="264.5" x2="921.65" y2="264.5" stroke="#000" stroke-width="2.7" stroke-linecap="butt"/>
<line x1="908.25" y1="289.4" x2="921.65" y2="289.4" stroke="#000" stroke-width="2.7" stroke-linecap="butt"/>
<rect x="903.65" y="278.65" width="22.6" height="4.8" fill="#808080" stroke="#000" stroke-width="2.7"/>
<line x1="903.65" y1="281" x2="926.25" y2="281" stroke="#000" stroke-width="2.6" stroke-linecap="butt"/>
<line x1="954.25" y1="224.6" x2="954.25" y2="249.3" stroke="#000" stroke-width="2.7" stroke-linecap="butt"/>
<line x1="954.25" y1="270.1" x2="954.25" y2="281.7" stroke="#000" stroke-width="2.7" stroke-linecap="butt"/>
<line x1="947.55" y1="224.6" x2="960.95" y2="224.6" stroke="#000" stroke-width="2.7" stroke-linecap="butt"/>
<line x1="947.55" y1="281.7" x2="960.95" y2="281.7" stroke="#000" stroke-width="2.7" stroke-linecap="butt"/>
<rect x="943.15" y="250.65" width="22.2" height="18.1" fill="#aadcaa" stroke="#000" stroke-width="2.7"/>
<line x1="943.15" y1="258.9" x2="965.35" y2="258.9" stroke="#000" stroke-width="2.6" stroke-linecap="butt"/>
<line x1="993.3" y1="201.9" x2="993.3" y2="227.2" stroke="#000" stroke-width="2.7" stroke-linecap="butt"/>
<line x1="993.3" y1="251.9" x2="993.3" y2="264.2" stroke="#000" stroke-width="2.7" stroke-linecap="butt"/>
<line x1="986.6" y1="201.9" x2="1000" y2="201.9" stroke="#000" stroke-width="2.7" stroke-linecap="butt"/>
<line x1="986.6" y1="264.2" x2="1000" y2="264.2" stroke="#000" stroke-width="2.7" stroke-linecap="butt"/>
<rect x="982.35" y="228.55" width="21.9" height="22" fill="#005e00" stroke="#000" stroke-width="2.7"/>
<line x1="982.35" y1="244.6" x2="1004.25" y2="244.6" stroke="#000" stroke-width="2.6" stroke-linecap="butt"/>
<circle cx="914.8" cy="258.6" r="2.2" fill="none" stroke="#000" stroke-width="1.7"/>
<circle cx="914.8" cy="290.5" r="3.05" fill="#000"/>
<circle cx="953.9" cy="223.8" r="3.05" fill="#000"/>
<circle cx="949.9" cy="284.1" r="2.2" fill="none" stroke="#000" stroke-width="1.7"/>
<circle cx="958.2" cy="281.7" r="3.05" fill="#000"/>
<circle cx="993.3" cy="201" r="3.05" fill="#000"/>
<circle cx="993.3" cy="265" r="3.05" fill="#000"/>
<circle cx="993.3" cy="272.2" r="2.2" fill="none" stroke="#000" stroke-width="1.7"/>
<circle cx="954.1" cy="169.8" r="2.2" fill="none" stroke="#000" stroke-width="1.7"/>
<circle cx="993.2" cy="163.8" r="3.05" fill="#000"/>
<path d="M936.62 88.8V95.8M932.9 90.15L940.35 94.45M932.9 94.45L940.35 90.15M948.08 88.8V95.8M944.35 90.15L951.8 94.45M944.35 94.45L951.8 90.15M959.52 88.8V95.8M955.8 90.15L963.25 94.45M955.8 94.45L963.25 90.15M970.98 88.8V95.8M967.25 90.15L974.7 94.45M967.25 94.45L974.7 90.15" stroke="#000" stroke-width="1.85" fill="none" stroke-linejoin="miter" stroke-linecap="round"/>
<path d="M961.75 130.2V137.2M958.03 131.55L965.47 135.85M958.03 135.85L965.47 131.55M973.2 130.2V137.2M969.48 131.55L976.92 135.85M969.48 135.85L976.92 131.55M984.65 130.2V137.2M980.93 131.55L988.37 135.85M980.93 135.85L988.37 131.55" stroke="#000" stroke-width="1.85" fill="none" stroke-linejoin="miter" stroke-linecap="round"/>
<path d="M917.12 181.8V188.8M913.4 183.15L920.85 187.45M913.4 187.45L920.85 183.15M928.58 181.8V188.8M924.85 183.15L932.3 187.45M924.85 187.45L932.3 183.15M940.02 181.8V188.8M936.3 183.15L943.75 187.45M936.3 187.45L943.75 183.15M951.48 181.8V188.8M947.75 183.15L955.2 187.45M947.75 187.45L955.2 183.15" stroke="#000" stroke-width="1.85" fill="none" stroke-linejoin="miter" stroke-linecap="round"/>
<line x1="647.6" y1="537.88" x2="647.6" y2="737.8" stroke="#2c2c2c" stroke-width="1.25" stroke-linecap="butt"/>
<line x1="640.1" y1="698.5" x2="647.6" y2="698.5" stroke="#2c2c2c" stroke-width="1.25" stroke-linecap="butt"/>
<line x1="640.1" y1="658.7" x2="647.6" y2="658.7" stroke="#2c2c2c" stroke-width="1.25" stroke-linecap="butt"/>
<line x1="640.1" y1="618.5" x2="647.6" y2="618.5" stroke="#2c2c2c" stroke-width="1.25" stroke-linecap="butt"/>
<line x1="640.1" y1="578.4" x2="647.6" y2="578.4" stroke="#2c2c2c" stroke-width="1.25" stroke-linecap="butt"/>
<line x1="640.1" y1="538.5" x2="647.6" y2="538.5" stroke="#2c2c2c" stroke-width="1.25" stroke-linecap="butt"/>
<line x1="640.1" y1="737.8" x2="780.7" y2="737.8" stroke="#2c2c2c" stroke-width="1.25" stroke-linecap="butt"/>
<line x1="674" y1="737.8" x2="674" y2="746.1" stroke="#2c2c2c" stroke-width="1.25" stroke-linecap="butt"/>
<line x1="713.9" y1="737.8" x2="713.9" y2="746.1" stroke="#2c2c2c" stroke-width="1.25" stroke-linecap="butt"/>
<line x1="753.8" y1="737.8" x2="753.8" y2="746.1" stroke="#2c2c2c" stroke-width="1.25" stroke-linecap="butt"/>
<text transform="translate(637.9,743.57) scale(0.9434,1)" font-size="15.9" font-weight="bold" text-anchor="end">0</text>
<text transform="translate(637.9,704.27) scale(0.9434,1)" font-size="15.9" font-weight="bold" text-anchor="end">2</text>
<text transform="translate(637.9,664.48) scale(0.9434,1)" font-size="15.9" font-weight="bold" text-anchor="end">4</text>
<text transform="translate(637.9,624.27) scale(0.9434,1)" font-size="15.9" font-weight="bold" text-anchor="end">6</text>
<text transform="translate(637.9,584.17) scale(0.9434,1)" font-size="15.9" font-weight="bold" text-anchor="end">8</text>
<text transform="translate(637.9,544.27) scale(0.9434,1)" font-size="15.9" font-weight="bold" text-anchor="end"> 0</text>
<polygon points="627.04,544.27 627.04,533.34 625.57,533.34 622.67,536.25 622.67,538.47 625.03,536.72 625.03,544.27" fill="#000"/>
<text transform="translate(713.7,493.9) scale(0.9434,1)" font-size="19.29" font-weight="bold" text-anchor="middle">ORN</text>
<text transform="translate(611.6,638.7) rotate(-90) scale(0.9434,1)" font-size="17.49" font-weight="bold" text-anchor="middle">relevant abundance</text>
<text transform="translate(679.5,760.5) rotate(-45) scale(0.9434,1)" font-size="15.9" font-weight="bold" text-anchor="end">No-DM</text>
<text transform="translate(719.5,760.5) rotate(-45) scale(0.9434,1)" font-size="15.9" font-weight="bold" text-anchor="end">Mild-to-moderate PDR</text>
<text transform="translate(759.5,760.5) rotate(-45) scale(0.9434,1)" font-size="15.9" font-weight="bold" text-anchor="end">Severe PDR</text>
<path d="M674.1 606.4V541.9H753.9V559.1" stroke="#000" stroke-width="2" fill="none" stroke-linejoin="miter" stroke-linecap="butt"/>
<path d="M713.8 606.4V590H753.9V656.2" stroke="#000" stroke-width="2" fill="none" stroke-linejoin="miter" stroke-linecap="butt"/>
<path d="M674.1 687.5V637.5H713.9V660.7" stroke="#000" stroke-width="2" fill="none" stroke-linejoin="miter" stroke-linecap="butt"/>
<line x1="674.25" y1="699.3" x2="674.25" y2="708.2" stroke="#000" stroke-width="2.7" stroke-linecap="butt"/>
<line x1="674.25" y1="727.4" x2="674.25" y2="732.2" stroke="#000" stroke-width="2.7" stroke-linecap="butt"/>
<line x1="667.55" y1="699.3" x2="680.95" y2="699.3" stroke="#000" stroke-width="2.7" stroke-linecap="butt"/>
<line x1="667.55" y1="732.2" x2="680.95" y2="732.2" stroke="#000" stroke-width="2.7" stroke-linecap="butt"/>
<rect x="662.55" y="709.55" width="23.4" height="16.5" fill="#808080" stroke="#000" stroke-width="2.7"/>
<line x1="662.55" y1="718.9" x2="685.95" y2="718.9" stroke="#000" stroke-width="2.6" stroke-linecap="butt"/>
<line x1="714.25" y1="673" x2="714.25" y2="685.4" stroke="#000" stroke-width="2.7" stroke-linecap="butt"/>
<line x1="714.25" y1="707.4" x2="714.25" y2="728.5" stroke="#000" stroke-width="2.7" stroke-linecap="butt"/>
<line x1="707.55" y1="673" x2="720.95" y2="673" stroke="#000" stroke-width="2.7" stroke-linecap="butt"/>
<line x1="707.55" y1="728.5" x2="720.95" y2="728.5" stroke="#000" stroke-width="2.7" stroke-linecap="butt"/>
<rect x="702.85" y="686.75" width="22.8" height="19.3" fill="#aadcaa" stroke="#000" stroke-width="2.7"/>
<line x1="702.85" y1="696.6" x2="725.65" y2="696.6" stroke="#000" stroke-width="2.6" stroke-linecap="butt"/>
<line x1="754.15" y1="667.8" x2="754.15" y2="684.1" stroke="#000" stroke-width="2.7" stroke-linecap="butt"/>
<line x1="754.15" y1="700.9" x2="754.15" y2="723.7" stroke="#000" stroke-width="2.7" stroke-linecap="butt"/>
<line x1="747.45" y1="667.8" x2="760.85" y2="667.8" stroke="#000" stroke-width="2.7" stroke-linecap="butt"/>
<line x1="747.45" y1="723.7" x2="760.85" y2="723.7" stroke="#000" stroke-width="2.7" stroke-linecap="butt"/>
<rect x="742.75" y="685.45" width="22.8" height="14.1" fill="#005e00" stroke="#000" stroke-width="2.7"/>
<line x1="742.75" y1="692.3" x2="765.55" y2="692.3" stroke="#000" stroke-width="2.6" stroke-linecap="butt"/>
<circle cx="674" cy="697.9" r="3.05" fill="#000"/>
<circle cx="674" cy="733.3" r="3.05" fill="#000"/>
<circle cx="713.9" cy="672" r="3.05" fill="#000"/>
<circle cx="709.9" cy="730.1" r="2.2" fill="none" stroke="#000" stroke-width="1.7"/>
<circle cx="718.2" cy="728.5" r="3.05" fill="#000"/>
<circle cx="750.2" cy="667.8" r="3.05" fill="#000"/>
<circle cx="758.1" cy="665.5" r="2.2" fill="none" stroke="#000" stroke-width="1.7"/>
<circle cx="750.2" cy="723.7" r="2.2" fill="none" stroke="#000" stroke-width="1.7"/>
<circle cx="758.1" cy="723.7" r="2.2" fill="none" stroke="#000" stroke-width="1.7"/>
<circle cx="714.1" cy="565.9" r="2.2" fill="none" stroke="#000" stroke-width="1.7"/>
<path d="M696.25 524.9V531.9M692.53 526.25L699.97 530.55M692.53 530.55L699.97 526.25M708.15 524.9V531.9M704.43 526.25L711.87 530.55M704.43 530.55L711.87 526.25M720.05 524.9V531.9M716.33 526.25L723.77 530.55M716.33 530.55L723.77 526.25M731.95 524.9V531.9M728.23 526.25L735.67 530.55M728.23 530.55L735.67 526.25" stroke="#000" stroke-width="1.85" fill="none" stroke-linejoin="miter" stroke-linecap="round"/>
<text transform="translate(734.2,580.2) scale(0.9434,1)" font-size="16.96" font-weight="normal" text-anchor="middle">ns</text>
<path d="M676.25 620.3V627.3M672.53 621.65L679.97 625.95M672.53 625.95L679.97 621.65M688.15 620.3V627.3M684.43 621.65L691.87 625.95M684.43 625.95L691.87 621.65M700.05 620.3V627.3M696.33 621.65L703.77 625.95M696.33 625.95L703.77 621.65M711.95 620.3V627.3M708.23 621.65L715.67 625.95M708.23 625.95L715.67 621.65" stroke="#000" stroke-width="1.85" fill="none" stroke-linejoin="miter" stroke-linecap="round"/>
<line x1="887.4" y1="553.77" x2="887.4" y2="743.7" stroke="#2c2c2c" stroke-width="1.25" stroke-linecap="butt"/>
<line x1="879.9" y1="680.6" x2="887.4" y2="680.6" stroke="#2c2c2c" stroke-width="1.25" stroke-linecap="butt"/>
<line x1="879.9" y1="617.2" x2="887.4" y2="617.2" stroke="#2c2c2c" stroke-width="1.25" stroke-linecap="butt"/>
<line x1="879.9" y1="554.4" x2="887.4" y2="554.4" stroke="#2c2c2c" stroke-width="1.25" stroke-linecap="butt"/>
<line x1="879.9" y1="743.7" x2="1014.3" y2="743.7" stroke="#2c2c2c" stroke-width="1.25" stroke-linecap="butt"/>
<line x1="912.7" y1="743.7" x2="912.7" y2="752" stroke="#2c2c2c" stroke-width="1.25" stroke-linecap="butt"/>
<line x1="950.7" y1="743.7" x2="950.7" y2="752" stroke="#2c2c2c" stroke-width="1.25" stroke-linecap="butt"/>
<line x1="988.6" y1="743.7" x2="988.6" y2="752" stroke="#2c2c2c" stroke-width="1.25" stroke-linecap="butt"/>
<text transform="translate(877.7,749.48) scale(0.9434,1)" font-size="15.9" font-weight="bold" text-anchor="end">0</text>
<text transform="translate(877.7,686.38) scale(0.9434,1)" font-size="15.9" font-weight="bold" text-anchor="end">2</text>
<text transform="translate(877.7,622.98) scale(0.9434,1)" font-size="15.9" font-weight="bold" text-anchor="end">4</text>
<text transform="translate(877.7,560.17) scale(0.9434,1)" font-size="15.9" font-weight="bold" text-anchor="end">6</text>
<text transform="translate(950.6,493.6) scale(0.9434,1)" font-size="19.08" font-weight="bold" text-anchor="middle">CITR</text>
<text transform="translate(861.2,648.9) rotate(-90) scale(0.9434,1)" font-size="16.64" font-weight="bold" text-anchor="middle">relevant abundance</text>
<text transform="translate(918.5,764.2) rotate(-45) scale(0.9434,1)" font-size="15.37" font-weight="bold" text-anchor="end">No-DM</text>
<text transform="translate(956.5,764.2) rotate(-45) scale(0.9434,1)" font-size="15.37" font-weight="bold" text-anchor="end">Mild-to-moderate PDR</text>
<text transform="translate(994.5,764.2) rotate(-45) scale(0.9434,1)" font-size="15.37" font-weight="bold" text-anchor="end">Severe PDR</text>
<path d="M912.8 627.5V539.6H988.7V550.2" stroke="#000" stroke-width="2" fill="none" stroke-linejoin="miter" stroke-linecap="butt"/>
<path d="M950.7 615.5V579.8H988.7V590.9" stroke="#000" stroke-width="2" fill="none" stroke-linejoin="miter" stroke-linecap="butt"/>
<path d="M912.7 665.8V638.8H950.7V656.2" stroke="#000" stroke-width="2" fill="none" stroke-linejoin="miter" stroke-linecap="butt"/>
<line x1="912.55" y1="677.4" x2="912.55" y2="707" stroke="#000" stroke-width="2.7" stroke-linecap="butt"/>
<line x1="912.55" y1="720" x2="912.55" y2="732.2" stroke="#000" stroke-width="2.7" stroke-linecap="butt"/>
<line x1="905.85" y1="677.4" x2="919.25" y2="677.4" stroke="#000" stroke-width="2.7" stroke-linecap="butt"/>
<line x1="905.85" y1="732.2" x2="919.25" y2="732.2" stroke="#000" stroke-width="2.7" stroke-linecap="butt"/>
<rect x="901.75" y="708.35" width="21.6" height="10.3" fill="#808080" stroke="#000" stroke-width="2.7"/>
<line x1="901.75" y1="714.1" x2="923.35" y2="714.1" stroke="#000" stroke-width="2.6" stroke-linecap="butt"/>
<line x1="950.7" y1="667.8" x2="950.7" y2="685.9" stroke="#000" stroke-width="2.7" stroke-linecap="butt"/>
<line x1="950.7" y1="716.9" x2="950.7" y2="731.7" stroke="#000" stroke-width="2.7" stroke-linecap="butt"/>
<line x1="944" y1="667.8" x2="957.4" y2="667.8" stroke="#000" stroke-width="2.7" stroke-linecap="butt"/>
<line x1="944" y1="731.7" x2="957.4" y2="731.7" stroke="#000" stroke-width="2.7" stroke-linecap="butt"/>
<rect x="940.05" y="687.25" width="21.3" height="28.3" fill="#aadcaa" stroke="#000" stroke-width="2.7"/>
<line x1="940.05" y1="699.8" x2="961.35" y2="699.8" stroke="#000" stroke-width="2.6" stroke-linecap="butt"/>
<line x1="988.7" y1="602.2" x2="988.7" y2="674.2" stroke="#000" stroke-width="2.7" stroke-linecap="butt"/>
<line x1="988.7" y1="709.8" x2="988.7" y2="722.5" stroke="#000" stroke-width="2.7" stroke-linecap="butt"/>
<line x1="982" y1="602.2" x2="995.4" y2="602.2" stroke="#000" stroke-width="2.7" stroke-linecap="butt"/>
<line x1="982" y1="722.5" x2="995.4" y2="722.5" stroke="#000" stroke-width="2.7" stroke-linecap="butt"/>
<rect x="977.95" y="675.55" width="21.5" height="32.9" fill="#005e00" stroke="#000" stroke-width="2.7"/>
<line x1="977.95" y1="696.3" x2="999.45" y2="696.3" stroke="#000" stroke-width="2.6" stroke-linecap="butt"/>
<circle cx="912.7" cy="675.8" r="2.2" fill="none" stroke="#000" stroke-width="1.7"/>
<circle cx="912.7" cy="733" r="3.05" fill="#000"/>
<circle cx="950.7" cy="666.5" r="3.05" fill="#000"/>
<circle cx="946.7" cy="734.1" r="2.2" fill="none" stroke="#000" stroke-width="1.7"/>
<circle cx="954.7" cy="731.7" r="3.05" fill="#000"/>
<circle cx="984.6" cy="723.7" r="2.2" fill="none" stroke="#000" stroke-width="1.7"/>
<circle cx="992.5" cy="722.4" r="3.05" fill="#000"/>
<circle cx="988.7" cy="598.3" r="2.2" fill="none" stroke="#000" stroke-width="1.7"/>
<circle cx="988.7" cy="578.3" r="2.2" fill="none" stroke="#000" stroke-width="1.7"/>
<circle cx="950.7" cy="633.5" r="2.2" fill="none" stroke="#000" stroke-width="1.7"/>
<path d="M939.4 523.5V530.5M935.68 524.85L943.12 529.15M935.68 529.15L943.12 524.85M950.6 523.5V530.5M946.88 524.85L954.32 529.15M946.88 529.15L954.32 524.85M961.8 523.5V530.5M958.08 524.85L965.52 529.15M958.08 529.15L965.52 524.85" stroke="#000" stroke-width="1.85" fill="none" stroke-linejoin="miter" stroke-linecap="round"/>
<text transform="translate(970,570.6) scale(0.9434,1)" font-size="16.11" font-weight="normal" text-anchor="middle">ns</text>
<path d="M931.9 622.8V629.8M928.18 624.15L935.62 628.45M928.18 628.45L935.62 624.15" stroke="#000" stroke-width="1.85" fill="none" stroke-linejoin="miter" stroke-linecap="round"/>
<text x="258.7" y="930" font-family='"Liberation Serif", serif' font-size="26" text-anchor="middle">Plasma</text>
<text x="840.6" y="924.6" font-family='"Liberation Serif", serif' font-size="26" text-anchor="middle">Aqueous humor</text>
</svg></body></html>
